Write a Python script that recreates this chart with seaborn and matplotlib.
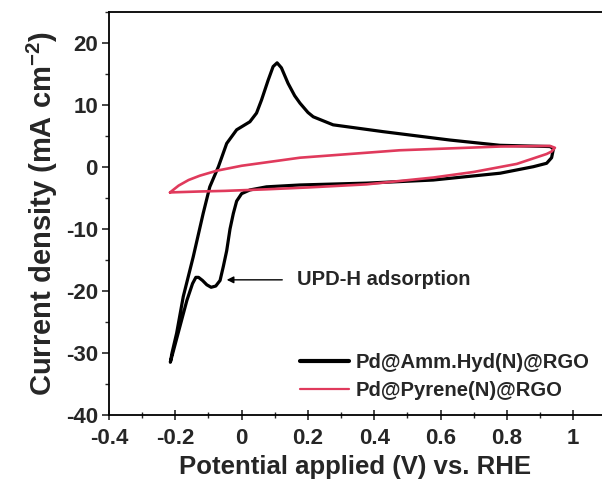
import numpy as np
import pandas as pd
import matplotlib
matplotlib.use("Agg")
import matplotlib.pyplot as plt
import seaborn as sns
from matplotlib.ticker import MultipleLocator

# --- data ---
black_label = "Pd@Amm.Hyd(N)@RGO"
red_label = "Pd@Pyrene(N)@RGO"

black_v = [0.94, 0.935, 0.92, 0.88, 0.78, 0.578, 0.377, 0.176, 0.075, 0.025, 0.0,
           -0.015, -0.025, -0.035, -0.045, -0.055, -0.065, -0.078, -0.092, -0.105,
           -0.118, -0.13, -0.138, -0.148, -0.165, -0.18, -0.2, -0.215,
           -0.21, -0.196, -0.176, -0.146, -0.116, -0.096, -0.07, -0.045, -0.015,
           0.025, 0.045, 0.06, 0.08, 0.095, 0.107, 0.12, 0.14, 0.16, 0.176, 0.2,
           0.216, 0.276, 0.427, 0.628, 0.779, 0.93, 0.94]
black_j = [2.8, 1.5, 0.6, 0.05, -1.0, -2.1, -2.6, -2.9, -3.2, -3.7, -4.3,
           -5.5, -7.5, -10.0, -13.5, -16.0, -18.3, -19.2, -19.4, -19.0,
           -18.3, -17.8, -17.8, -18.8, -21.5, -24.5, -28.5, -31.5,
           -30.0, -26.8, -20.9, -14.5, -7.5, -3.2, 0.05, 3.8, 6.0,
           7.3, 8.7, 10.8, 14.0, 16.2, 16.8, 16.0, 13.5, 11.5, 10.3, 8.8,
           8.1, 6.8, 5.7, 4.35, 3.5, 3.3, 3.0]

red_v = [-0.216, -0.19, -0.16, -0.126, -0.075, 0.0, 0.176, 0.477, 0.779, 0.93,
         0.945, 0.935, 0.92, 0.83, 0.7, 0.578, 0.377, 0.2, 0.075, -0.05, -0.126,
         -0.216]
red_j = [-4.1, -3.0, -2.1, -1.4, -0.6, 0.2, 1.5, 2.7, 3.3, 3.4,
         3.1, 2.5, 2.1, 0.5, -0.8, -1.7, -2.8, -3.3, -3.6, -3.85, -3.95,
         -4.1]

annot_text = "UPD-H adsorption"
annot_xy = (-0.045, -18.2)
annot_text_xy = (0.166, -18.2)

x_ticks = [-0.4, -0.2, 0, 0.2, 0.4, 0.6, 0.8, 1]
x_ticklabels = ["-0.4", "-0.2", "0", "0.2", "0.4", "0.6", "0.8", "1"]
y_ticks = [-40, -30, -20, -10, 0, 10, 20]
y_ticklabels = ["-40", "-30", "-20", "-10", "0", "10", "20"]

sns.set_style("ticks")
plt.rcParams["font.family"] = ["Liberation Sans", "DejaVu Sans"]
plt.rcParams["font.weight"] = "bold"
plt.rcParams["axes.unicode_minus"] = False
plt.rcParams["mathtext.fontset"] = "custom"
plt.rcParams["mathtext.rm"] = "Liberation Sans:bold"
plt.rcParams["mathtext.bf"] = "Liberation Sans:bold"
plt.rcParams["mathtext.default"] = "bf"

fig = plt.figure(figsize=(6.02, 4.90), dpi=100)
ax = fig.add_axes([109 / 602, 75 / 490, 1 - 109 / 602, (415 - 12) / 490])

df_b = pd.DataFrame({"V": black_v, "J": black_j})
df_r = pd.DataFrame({"V": red_v, "J": red_j})

sns.lineplot(data=df_b, x="V", y="J", sort=False, estimator=None, color="black",
             lw=2.3, label=black_label, ax=ax)
sns.lineplot(data=df_r, x="V", y="J", sort=False, estimator=None, color="#e03a5c",
             lw=1.9, label=red_label, ax=ax)

ax.set_xlim(-0.4, 1.087)
ax.set_ylim(-40, 25)
ax.set_xticks(x_ticks)
ax.set_xticklabels(x_ticklabels)
ax.set_yticks(y_ticks)
ax.set_yticklabels(y_ticklabels)
ax.xaxis.set_minor_locator(MultipleLocator(0.1))
ax.yaxis.set_minor_locator(MultipleLocator(5))
ax.tick_params(axis="x", which="major", direction="inout", length=7, width=1.2,
               labelsize=16, pad=6)
ax.tick_params(axis="x", which="minor", direction="inout", length=5, width=1.0)
ax.tick_params(axis="y", which="major", direction="out", length=5, width=1.2,
               labelsize=16, pad=3)
ax.tick_params(axis="y", which="minor", direction="out", length=3, width=1.0)
for lab in ax.get_xticklabels() + ax.get_yticklabels():
    lab.set_fontweight("bold")

for s in ["left", "bottom", "top"]:
    ax.spines[s].set_linewidth(1.3)
    ax.spines[s].set_color("black")
ax.spines["right"].set_visible(False)

ax.set_xlabel("Potential applied (V) vs. RHE", fontsize=18.5, fontweight="bold", labelpad=4)
ax.set_ylabel(r"Current density (mA cm$^{-2}$)", fontsize=21, fontweight="bold", labelpad=4)

ax.annotate(annot_text, xy=annot_xy, xytext=annot_text_xy, fontsize=14.5,
            fontweight="bold", va="center", ha="left",
            arrowprops=dict(arrowstyle="-|>", color="black", lw=1.0,
                            mutation_scale=10, shrinkA=8, shrinkB=0))

leg = ax.legend(loc="center left", bbox_to_anchor=(300 / 602, 1 - 376.5 / 490),
                bbox_transform=fig.transFigure, frameon=False, fontsize=14.6,
                handlelength=2.4, handletextpad=0.33, labelspacing=0.42,
                borderpad=0, borderaxespad=0)
for t in leg.get_texts():
    t.set_fontweight("bold")
for h, w in zip(leg.get_lines(), [3.0, 1.6]):
    h.set_linewidth(w)

fig.savefig("out.png", dpi=100)
